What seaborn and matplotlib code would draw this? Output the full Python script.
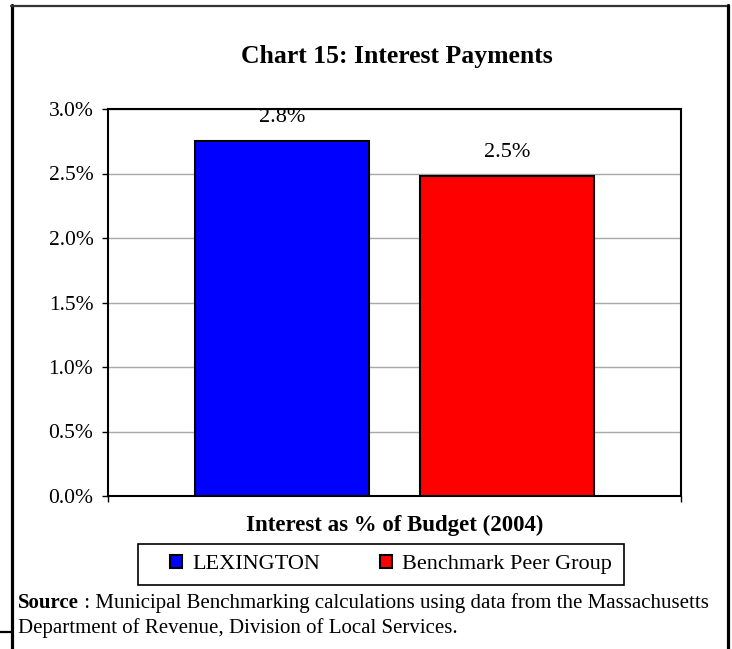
import matplotlib
matplotlib.use("Agg")
import matplotlib.pyplot as plt
from matplotlib.lines import Line2D
from matplotlib.patches import Rectangle
from matplotlib.ticker import FuncFormatter
import seaborn as sns
import pandas as pd

# Chart data
series = ["LEXINGTON", "Benchmark Peer Group"]
values = [2.75, 2.48]          # interest as % of budget, 2004
colors = ["#0000FF", "#FF0000"]
y_ticks = [0.0, 0.5, 1.0, 1.5, 2.0, 2.5, 3.0]

title = "Chart 15: Interest Payments"
x_label = "Interest as % of Budget (2004)"
source_head = "Source"
source_line1 = " : Municipal Benchmarking calculations using data from the Massachusetts"
source_line2 = "Department of Revenue, Division of Local Services."

sns.set_style("white")
plt.rcParams["font.family"] = ["Liberation Serif", "DejaVu Serif"]
plt.rcParams.update({
    "text.color": "black",
    "axes.labelcolor": "black",
    "xtick.color": "black",
    "ytick.color": "black",
})

W, H = 732, 649
fig = plt.figure(figsize=(W / 100, H / 100), dpi=100)
fig.patch.set_facecolor("white")


def fx(px):
    return px / W


def fy(py):
    return 1 - py / H


ax_l, ax_r, ax_t, ax_b = 108, 681, 109, 496
ax = fig.add_axes([fx(ax_l), fy(ax_b), (ax_r - ax_l) / W, (ax_b - ax_t) / H])

df = pd.DataFrame({"series": series, "value": values})
sns.barplot(data=df, x="series", y="value", hue="series", palette=colors,
            saturation=1, width=0.77, edgecolor="black", linewidth=1.5,
            legend=True, ax=ax)

ax.set_ylim(0, 3.0)
ax.set_yticks(y_ticks)
ax.yaxis.set_major_formatter(FuncFormatter(lambda v, _: f"{v:.1f}%"))
ax.yaxis.grid(True, color="#a8a8a8", linewidth=1.0)
ax.set_axisbelow(True)
ax.set_ylabel("")

x0, x1 = -0.77, 1.77
ax.set_xlim(x0, x1)
ax.set_xticks([x0, x1])
ax.set_xticklabels(["", ""])
ax.tick_params(axis="both", which="major", direction="out", length=4.5,
               width=1.0, color="black", left=True, bottom=True)
ax.tick_params(axis="y", labelsize=15.5, pad=6)

for sp in ax.spines.values():
    sp.set_visible(True)
    sp.set_color("black")
    sp.set_linewidth(1.5)

ax.set_xlabel(x_label, fontsize=16.5, fontweight="bold")
ax.xaxis.set_label_coords(0.5, (ax_b - 525) / (ax_b - ax_t))
ax.xaxis.label.set_va("center")

# Value labels above bars
for i, v in enumerate(values):
    ax.annotate(f"{v:.1f}%", xy=(i, v), xytext=(0, 14), textcoords="offset points",
                ha="center", va="baseline", fontsize=16, clip_on=False)

# Legend below the axis title, with its own box
handles, labels = ax.get_legend_handles_labels()
if ax.get_legend() is not None:
    ax.get_legend().remove()
fig.add_artist(Rectangle((fx(138), fy(585)), (624 - 138) / W, (585 - 544) / H,
                         transform=fig.transFigure, facecolor="white",
                         edgecolor="black", linewidth=1.2, zorder=1))
leg = fig.legend(handles, labels, loc="center",
                 bbox_to_anchor=(fx(391), fy(564.5)), ncol=2,
                 frameon=False, fontsize=16, handlelength=0.55, handleheight=0.55,
                 handletextpad=0.45, columnspacing=2.7, borderpad=0.2)
leg.set_zorder(2)

# Title
fig.text(fx(397), fy(57), title, ha="center", va="center",
         fontsize=18.5, fontweight="bold")

# Source note
t_head = fig.text(fx(18), fy(603), source_head, ha="left", va="center",
                  fontsize=15, fontweight="bold")
ax.annotate(source_line1, xy=(1, 0.5), xycoords=t_head, ha="left", va="center",
            fontsize=15, annotation_clip=False)
fig.text(fx(18), fy(628), source_line2, ha="left", va="center", fontsize=15)

# Page frame around the chart
fig.add_artist(Line2D([fx(12), fx(12)], [0, fy(5)], transform=fig.transFigure,
                      color="black", lw=2.3))
fig.add_artist(Line2D([fx(11), fx(729)], [fy(5.5), fy(5.5)], transform=fig.transFigure,
                      color="#333333", lw=1.6))
fig.add_artist(Line2D([fx(728), fx(728)], [0, fy(5)], transform=fig.transFigure,
                      color="black", lw=2.3))
fig.add_artist(Line2D([0, fx(12)], [fy(632), fy(632)], transform=fig.transFigure,
                      color="black", lw=1.6))

fig.savefig("out.png", dpi=100, facecolor="white")
